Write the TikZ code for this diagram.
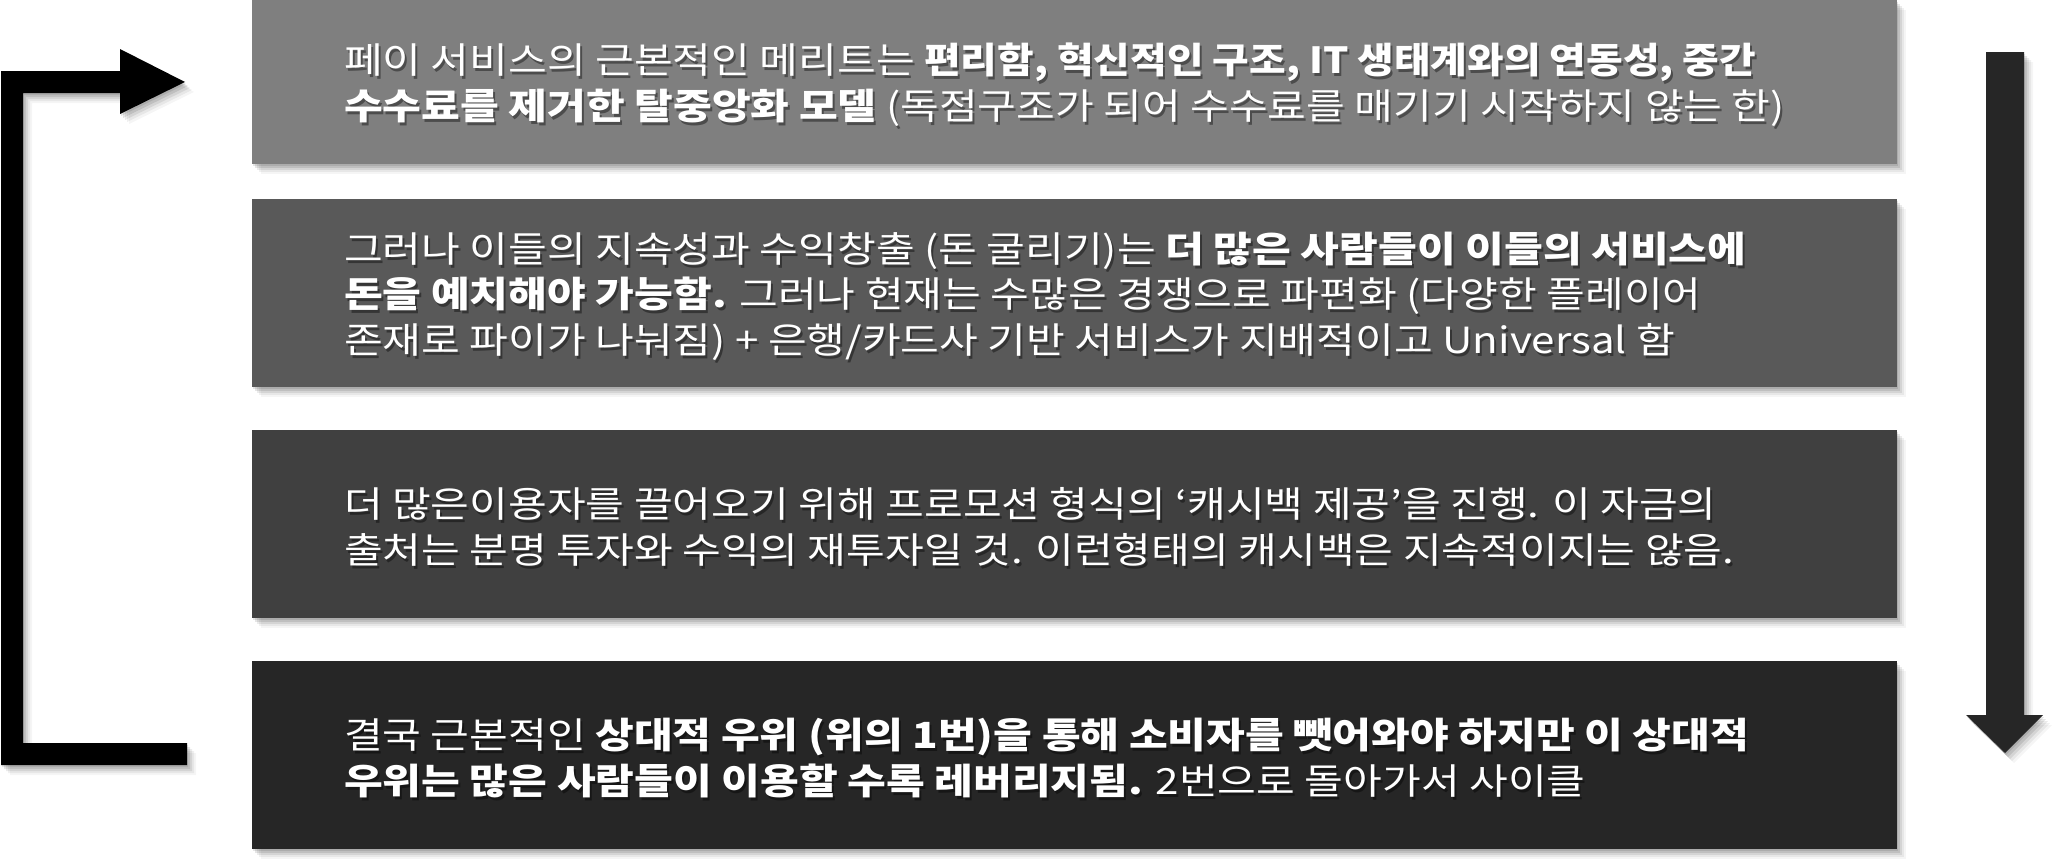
\documentclass[tikz,border=0pt]{standalone}
\usepackage{fontspec}
\usepackage{graphicx}
\setmainfont{Noto Sans CJK KR}[FakeStretch=1.17]
\usetikzlibrary{shadows}
\definecolor{cA}{HTML}{7F7F7F}
\definecolor{cB}{HTML}{595959}
\definecolor{cC}{HTML}{404040}
\definecolor{cD}{HTML}{262626}
\newcommand{\txtA}{페이 서비스의 근본적인 메리트는 \scalebox{0.945}[1]{\textbf{편리함, 혁신적인 구조, IT 생태계와의 연동성, 중간}}\\\textbf{수수료를 제거한 탈중앙화 모델} (독점구조가 되어 수수료를 매기기 시작하지 않는 한)}
\newcommand{\txtB}{그러나 이들의 지속성과 수익창출 (돈 굴리기)는 \textbf{더 많은 사람들이 이들의 서비스에}\\\textbf{돈을 예치해야 가능함.} 그러나 현재는 수많은 경쟁으로 파편화 (다양한 플레이어\\존재로 파이가 나눠짐) + 은행/카드사 기반 서비스가 지배적이고 Universal 함}
\newcommand{\txtC}{더 많은이용자를 끌어오기 위해 프로모션 형식의 ‘캐시백 제공’을 진행. 이 자금의\\출처는 분명 투자와 수익의 재투자일 것. 이런형태의 캐시백은 지속적이지는 않음.}
\newcommand{\txtD}{결국 근본적인 \textbf{상대적 우위 (위의 1번)을 통해 소비자를 뺏어와야 하지만 이 상대적}\\\textbf{우위는 많은 사람들이 이용할 수록 레버리지됨.} 2번으로 돌아가서 사이클}
\begin{document}
\begin{tikzpicture}[x=0.5pt,y=-0.5pt,
  fuzzy/.style={
    drop shadow={shadow xshift=0.5pt, shadow yshift=-1pt, opacity=0.10, fill=black},
    drop shadow={shadow xshift=1.5pt, shadow yshift=-2pt, opacity=0.10, fill=black},
    drop shadow={shadow xshift=2.5pt, shadow yshift=-3pt, opacity=0.08, fill=black},
    drop shadow={shadow xshift=3.5pt, shadow yshift=-4pt, opacity=0.06, fill=black},
    drop shadow={shadow xshift=4.5pt, shadow yshift=-5pt, opacity=0.04, fill=black}},
  panel/.style={fill=#1, draw=none, inner sep=0pt, minimum width=822.5pt, minimum height=94pt, fuzzy},
  txtfont/.style={anchor=west, align=left, inner sep=0pt, font=\fontsize{18}{22.8}\selectfont},
  txt/.style={txtfont, text=white},
  txtshade/.style={txtfont, text=black, text opacity=0.4},
  blockarrow/.style={fill=#1, draw=none, fuzzy}
]
\useasboundingbox (0,0) rectangle (2062,867);
% panels
\node[panel=cA, minimum height=82pt] (p1) at (1074.5,82) {};
\node[panel=cB] (p2) at (1074.5,293) {};
\node[panel=cC] (p3) at (1074.5,524) {};
\node[panel=cD] (p4) at (1074.5,755) {};
% texts (shadow then white)
\foreach \n/\t in {1/\txtA,2/\txtB,3/\txtC,4/\txtD}{
  \node[txtshade] (s\n) at ([xshift=47pt,yshift=-3pt]p\n.west) {\t};
  \node[txt] (t\n) at ([xshift=46pt,yshift=-1.5pt]p\n.west) {\t};
}
% left return arrow
\coordinate (la1) at (187,743);
\coordinate (la2) at (187,765);
\coordinate (la3) at (1,765);
\coordinate (la4) at (1,71);
\coordinate (la5) at (120,71);
\coordinate (la6) at (120,49);
\coordinate (latip) at (185,82);
\coordinate (la7) at (120,114);
\coordinate (la8) at (120,93);
\coordinate (la9) at (23,93);
\coordinate (la10) at (23,743);
\fill[blockarrow=black] (la1) -- (la2) -- (la3) -- (la4) -- (la5) -- (la6) -- (latip) -- (la7) -- (la8) -- (la9) -- (la10) -- cycle;
% right down arrow
\coordinate (ra1) at (1986,52);
\coordinate (ra2) at (2024,52);
\coordinate (ra3) at (2024,715);
\coordinate (ra4) at (2043,715);
\coordinate (ratip) at (2005,753);
\coordinate (ra5) at (1966,715);
\coordinate (ra6) at (1986,715);
\fill[blockarrow=cD] (ra1) -- (ra2) -- (ra3) -- (ra4) -- (ratip) -- (ra5) -- (ra6) -- cycle;
\end{tikzpicture}
\end{document}
